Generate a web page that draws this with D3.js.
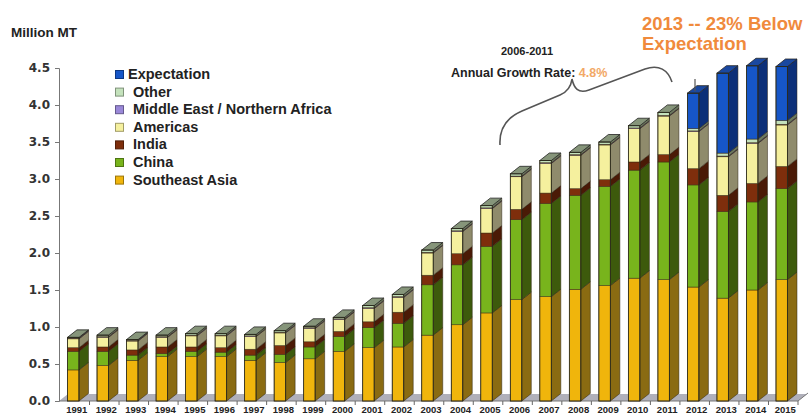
<!DOCTYPE html>
<html>
<head>
<meta charset="utf-8">
<script src="https://cdn.jsdelivr.net/npm/d3@7"></script>
<style>
  body { margin: 0; background: #fff; }
  svg { display: block; }
  text { font-family: "Liberation Sans", Arial, sans-serif; }
</style>
</head>
<body>
<div id="chart"></div>
<script>
// values in million MT
let years = d3.range(1991, 2016).map(String);
let southeastAsia = [0.42,0.48,0.55,0.60,0.60,0.60,0.55,0.52,0.57,0.67,0.72,0.73,0.89,1.03,1.19,1.37,1.41,1.51,1.56,1.66,1.64,1.54,1.39,1.50,1.64];
let china         = [0.25,0.19,0.07,0.04,0.07,0.06,0.07,0.11,0.16,0.20,0.27,0.32,0.68,0.81,0.90,1.08,1.26,1.27,1.34,1.46,1.59,1.38,1.17,1.19,1.23];
let india         = [0.05,0.06,0.07,0.09,0.06,0.06,0.08,0.12,0.07,0.07,0.08,0.15,0.13,0.15,0.18,0.14,0.14,0.09,0.09,0.11,0.10,0.22,0.22,0.25,0.30];
let americas      = [0.12,0.13,0.12,0.13,0.15,0.16,0.17,0.17,0.18,0.16,0.18,0.20,0.30,0.30,0.33,0.44,0.40,0.45,0.47,0.45,0.52,0.50,0.52,0.54,0.56];
let middleEast    = [0.01,0.01,0.01,0.01,0.01,0.01,0.01,0.01,0.01,0.01,0.01,0.01,0.01,0.01,0.01,0.01,0.01,0.01,0.01,0.01,0.01,0.01,0.01,0.01,0.01];
let other         = [0.01,0.02,0.01,0.02,0.02,0.02,0.02,0.02,0.02,0.02,0.03,0.03,0.03,0.03,0.03,0.03,0.03,0.03,0.03,0.03,0.04,0.03,0.04,0.05,0.05];
let expectation   = [0,0,0,0,0,0,0,0,0,0,0,0,0,0,0,0,0,0,0,0,0,0.48,1.08,0.99,0.73];
let yTicks = [0, 0.5, 1.0, 1.5, 2.0, 2.5, 3.0, 3.5, 4.0, 4.5];

// series bottom -> top
let series = [
    {key: 'sea',  label: 'Southeast Asia', values: southeastAsia, front: '#f0b50c', side: '#8a6b12', top: '#c9a13a'},
    {key: 'chn',  label: 'China',          values: china,         front: '#78b41c', side: '#3d5a0c', top: '#5f8a20'},
    {key: 'ind',  label: 'India',          values: india,         front: '#7e2e0c', side: '#4a1a06', top: '#6a2a10'},
    {key: 'am',   label: 'Americas',       values: americas,      front: '#f5f09e', side: '#8f8b6c', top: '#b8b48a'},
    {key: 'me',   label: 'Middle East / Northern Africa', values: middleEast, front: '#9a88d8', side: '#5a4a90', top: '#7a6ab0'},
    {key: 'oth',  label: 'Other',          values: other,         front: '#c4e2bc', side: '#6c7a60', top: '#86957a'},
    {key: 'exp',  label: 'Expectation',    values: expectation,   front: '#1656c8', side: '#0c2f78', top: '#1a48a0'}
];
let legendOrder = ['exp', 'oth', 'me', 'am', 'ind', 'chn', 'sea'];

let table = years.map((y, i) => {
    let row = {year: y};
    series.forEach(s => row[s.key] = s.values[i]);
    return row;
});

let width = 812, height = 417;
let svg = d3.select('#chart').append('svg')
    .attr('width', width)
    .attr('height', height);

let x = d3.scaleBand()
    .domain(years)
    .range([60, 798]);

let y = d3.scaleLinear()
    .domain([0, 4.5])
    .range([401, 68]);

let depthX = 9.5, depthY = -7.5, frontW = 11.5, frontOff = 7.5;

// floor
svg.append('polygon')
    .attr('points', [[59, 401], [798, 401], [807, 394], [68, 394]].map(p => p.join(',')).join(' '))
    .attr('fill', '#b0b0ba');
svg.append('path')
    .attr('d', 'M59,401 L798,401 L808,393')
    .attr('fill', 'none')
    .attr('stroke', '#777')
    .attr('stroke-width', 1);

// x ticks at band boundaries
svg.append('g')
    .selectAll('line')
    .data(years.slice(1).concat(['end']))
    .join('line')
    .attr('x1', d => d === 'end' ? 798 : x(d))
    .attr('x2', d => d === 'end' ? 798 : x(d))
    .attr('y1', 401)
    .attr('y2', 405)
    .attr('stroke', '#666');

// stacked 3d bars
let stack = d3.stack().keys(series.map(s => s.key));
let stacked = stack(table);

let bars = svg.append('g').attr('class', 'bars');
years.forEach((yr, i) => {
    let x0 = x(yr) + frontOff;
    let g = bars.append('g');
    let segs = stacked.map((layer, k) => ({s: series[k], y0: layer[i][0], y1: layer[i][1]}))
        .filter(d => d.y1 - d.y0 > 0);
    segs.forEach(d => {
        let yt = y(d.y1), yb = y(d.y0);
        g.append('rect')
            .attr('x', x0).attr('y', yt)
            .attr('width', frontW).attr('height', yb - yt)
            .attr('fill', d.s.front)
            .attr('stroke', '#3a2a10').attr('stroke-width', 0.5);
        g.append('polygon')
            .attr('points', [[x0 + frontW, yt], [x0 + frontW + depthX, yt + depthY],
                             [x0 + frontW + depthX, yb + depthY], [x0 + frontW, yb]]
                .map(p => p.join(',')).join(' '))
            .attr('fill', d.s.side)
            .attr('stroke', '#2a2010').attr('stroke-width', 0.5);
    });
    let topSeg = segs[segs.length - 1];
    let yt = y(topSeg.y1);
    g.append('polygon')
        .attr('points', [[x0, yt], [x0 + frontW, yt], [x0 + frontW + depthX, yt + depthY], [x0 + depthX, yt + depthY]]
            .map(p => p.join(',')).join(' '))
        .attr('fill', topSeg.s.top)
        .attr('stroke', '#222').attr('stroke-width', 0.8);
    // outline of the whole bar
    g.append('rect')
        .attr('x', x0).attr('y', yt)
        .attr('width', frontW).attr('height', y(0) - yt)
        .attr('fill', 'none')
        .attr('stroke', '#2a2a1a').attr('stroke-width', 0.8);
});

// y axis
let yAxis = d3.axisLeft(y)
    .tickValues(yTicks)
    .tickFormat(d3.format('.1f'))
    .tickSize(4)
    .tickPadding(5);
let yg = svg.append('g')
    .attr('transform', 'translate(59,0)')
    .call(yAxis);
yg.select('.domain').attr('stroke', '#777');
yg.selectAll('.tick line').attr('stroke', '#777');
yg.selectAll('.tick text')
    .style('font-family', '"DejaVu Sans", Verdana, sans-serif')
    .style('font-weight', 'bold')
    .style('font-size', '12px')
    .attr('fill', '#333');

// x labels
let xAxis = d3.axisBottom(x).tickSize(0).tickPadding(0);
let xg = svg.append('g')
    .attr('transform', 'translate(2,406)')
    .call(xAxis);
xg.select('.domain').remove();
xg.selectAll('.tick text')
    .attr('dy', '0.75em')
    .style('font-family', '"Liberation Sans Narrow", "Liberation Sans", sans-serif')
    .style('font-weight', 'bold')
    .style('font-size', '9.5px')
    .attr('fill', '#222');

// axis title
svg.append('text')
    .attr('x', 11).attr('y', 37)
    .style('font-weight', 'bold').style('font-size', '13.5px')
    .attr('fill', '#222')
    .text('Million MT');

// legend
let legend = svg.append('g');
legendOrder.forEach((k, i) => {
    let s = series.find(d => d.key === k);
    let by = 79 + i * 17.6;
    legend.append('rect')
        .attr('x', 115.5).attr('y', by - 8.5)
        .attr('width', 8).attr('height', 8)
        .attr('fill', s.front)
        .attr('stroke', d3.color(s.front).darker(1.2)).attr('stroke-width', 1);
    legend.append('text')
        .attr('x', k === 'exp' ? 128 : 133).attr('y', by)
        .style('font-weight', 'bold').style('font-size', '14.5px')
        .attr('fill', '#222')
        .text(s.label);
});

// growth annotation
svg.append('text')
    .attr('x', 527).attr('y', 55)
    .attr('text-anchor', 'middle')
    .style('font-weight', 'bold').style('font-size', '11px')
    .attr('fill', '#222')
    .text('2006-2011');
let ann = svg.append('text')
    .attr('x', 451).attr('y', 77)
    .style('font-weight', 'bold').style('font-size', '12.5px')
    .attr('fill', '#222');
ann.append('tspan').text('Annual Growth Rate: ');
ann.append('tspan').attr('fill', '#f2a866').text('4.8%');

svg.append('path')
    .attr('d', 'M500,145 C499,128 508,117 522,111 L560,95 C567,92 571,87 572,79 C574,88 578,94 589,90 L645,69 C659,64 668,70 672,82')
    .attr('fill', 'none')
    .attr('stroke', '#555')
    .attr('stroke-width', 1.6);

svg.append('line')
    .attr('x1', 695).attr('x2', 695)
    .attr('y1', 79).attr('y2', y(4.16) - 2)
    .attr('stroke', '#555').attr('stroke-width', 1.2);

svg.append('text')
    .attr('x', 642).attr('y', 30)
    .style('font-weight', 'bold').style('font-size', '18.5px')
    .attr('fill', '#f08a3c')
    .text('2013 -- 23% Below');
svg.append('text')
    .attr('x', 642).attr('y', 50)
    .style('font-weight', 'bold').style('font-size', '18.5px')
    .attr('fill', '#f08a3c')
    .text('Expectation');
</script>
</body>
</html>
